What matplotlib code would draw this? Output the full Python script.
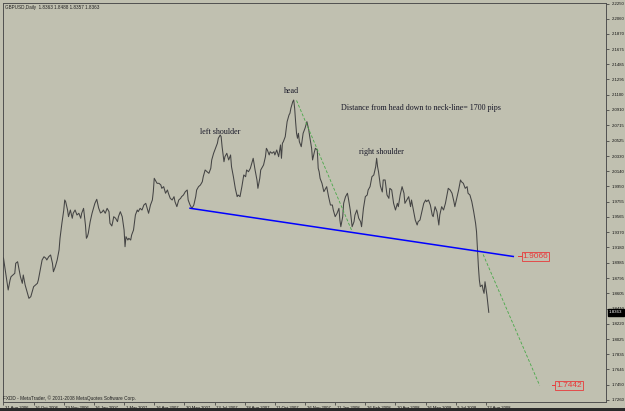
import matplotlib
matplotlib.use('Agg')
import matplotlib.pyplot as plt
from matplotlib.transforms import ScaledTranslation
from matplotlib.patches import Rectangle

# ---------------- data ----------------
bars = [0, 5, 6, 7, 8, 10, 12, 13, 15, 16, 18, 20, 21, 23, 25, 27, 29, 30, 32, 34,
        36, 37, 39, 41, 43, 45, 46, 48, 50, 52, 53, 55, 57, 59, 60, 62, 64, 65, 66, 68,
        69, 71, 73, 74, 76, 78, 80, 82, 83, 85, 87, 88, 89, 90, 92, 94, 96, 97, 99, 101,
        103,
        105, 106, 108, 110, 112, 113, 115, 116, 117, 119, 121, 122, 124, 126, 128, 129, 130, 132, 133, 135,
        136, 138, 140, 142, 143, 145, 147, 149, 151, 152, 154, 156, 158, 159, 160, 162, 163, 165, 167, 168,
        170, 172, 174, 175, 177, 179, 181, 182, 184, 186, 188, 189, 191, 193, 195, 196, 198, 200,
        202, 204, 205, 207, 209, 211, 212, 214, 216, 218, 220, 221, 223, 225, 227, 228, 230, 231, 232, 234,
        235, 237, 239, 241, 242, 244, 246, 248, 249, 251, 253, 255, 257, 258, 260, 262, 264, 265, 267, 269,
        270, 272, 273, 274, 276, 278, 279, 280, 282, 283, 285, 287, 288, 290, 292, 294, 295, 296, 297, 299,
        301, 303, 304, 305, 307, 308, 309, 310, 311, 312, 313, 314, 316, 317, 318, 320, 322, 324, 325, 327,
        328, 330, 331, 333, 334, 335, 336, 338, 340, 341, 343, 345, 347, 349, 350, 352, 354, 356, 357, 358,
        360, 361, 363, 365, 366, 368, 370, 372, 373, 375, 377, 379, 380, 382, 384, 386, 387, 389, 391, 393,
        395, 396, 397, 398, 400, 402, 403, 405,
        407, 409, 410, 412, 414, 416, 418, 419, 421, 423, 425, 426, 428, 430, 432, 433, 435, 437, 439, 440,
        442, 444, 446, 448, 449, 451, 453, 455, 456, 458, 460, 462, 463, 465, 467, 469, 471, 472, 474, 476,
        478, 479, 481, 483, 485, 486, 488, 490, 492, 493, 495, 497, 499, 501, 502, 503, 504, 505, 506, 508,
        509, 510, 511, 513, 514, 515]

close = [1.9047, 1.8644, 1.8707, 1.8770, 1.8811, 1.8833, 1.8854, 1.8980, 1.9000, 1.8937,
         1.8811, 1.8728, 1.8833, 1.8707, 1.8622, 1.8539, 1.8560, 1.8602, 1.8686, 1.8707,
         1.8728, 1.8770, 1.8896, 1.9022, 1.9063, 1.9043, 1.9022, 1.9063, 1.9085, 1.8980,
         1.8874, 1.8937, 1.9022, 1.9148, 1.9295, 1.9484, 1.9651, 1.9777, 1.9756, 1.9651,
         1.9567, 1.9651, 1.9547, 1.9610, 1.9651, 1.9588, 1.9610, 1.9547, 1.9610, 1.9672,
         1.9462, 1.9295, 1.9315, 1.9358, 1.9504, 1.9610, 1.9693, 1.9735, 1.9786, 1.9676,
         1.9613,
         1.9630, 1.9651, 1.9610, 1.9672, 1.9630, 1.9484, 1.9450, 1.9504, 1.9567, 1.9547,
         1.9504, 1.9567, 1.9630, 1.9567, 1.9399, 1.9189, 1.9315, 1.9273, 1.9295, 1.9273,
         1.9336, 1.9399, 1.9588, 1.9651, 1.9630, 1.9672, 1.9651, 1.9714, 1.9735, 1.9693,
         1.9610, 1.9714, 1.9777, 1.9882, 2.0050, 2.0007, 1.9987, 1.9987, 1.9966, 1.9924,
         1.9945, 1.9862, 1.9903, 1.9862, 1.9798, 1.9777, 1.9819, 1.9756, 1.9693, 1.9777,
         1.9798, 1.9819, 1.9840, 1.9882, 1.9903, 1.9777, 1.9714, 1.9672,
         1.9714, 1.9819, 1.9903, 1.9945, 1.9966, 2.0007, 2.0070, 2.0155, 2.0133, 2.0113,
         2.0176, 2.0281, 2.0365, 2.0428, 2.0491, 2.0554, 2.0595, 2.0574, 2.0448, 2.0259,
         2.0322, 2.0365, 2.0281, 2.0344, 2.0196, 2.0070, 1.9924, 1.9819, 1.9840, 1.9819,
         1.9945, 2.0092, 2.0070, 2.0155, 2.0133, 2.0176, 2.0259, 2.0302, 2.0155, 2.0029,
         1.9924, 2.0050, 2.0155, 2.0176, 2.0218, 2.0322, 2.0428, 2.0407, 2.0344, 2.0385,
         2.0365, 2.0385, 2.0344, 2.0407, 2.0322, 2.0470, 2.0302, 2.0491, 2.0511, 2.0574,
         2.0763, 2.0847, 2.0869, 2.0932, 2.1015, 2.1036, 2.0932, 2.0763, 2.0617, 2.0554,
         2.0617, 2.0511, 2.0448, 2.0532, 2.0617, 2.0680, 2.0763, 2.0658, 2.0574, 2.0428,
         2.0281, 2.0385, 2.0428, 2.0407, 2.0176, 2.0133, 2.0050, 1.9987, 1.9882, 1.9903,
         1.9945, 1.9819, 1.9714, 1.9714, 1.9651, 1.9567, 1.9610, 1.9672, 1.9525, 1.9441,
         1.9567, 1.9735, 1.9819, 1.9862, 1.9798, 1.9651, 1.9441, 1.9504, 1.9588, 1.9651,
         1.9547, 1.9504, 1.9441, 1.9672, 1.9819, 1.9840, 1.9903, 1.9945, 2.0070, 2.0092,
         2.0196, 2.0302, 2.0196, 2.0133, 1.9953, 1.9878, 2.0029, 2.0029,
         1.9840, 1.9798, 1.9924, 1.9903, 1.9735, 1.9651, 1.9735, 1.9693, 1.9840, 1.9945,
         1.9862, 1.9735, 1.9777, 1.9819, 1.9693, 1.9777, 1.9651, 1.9525, 1.9462, 1.9504,
         1.9525, 1.9630, 1.9735, 1.9777, 1.9756, 1.9777, 1.9714, 1.9588, 1.9567, 1.9693,
         1.9630, 1.9462, 1.9588, 1.9693, 1.9651, 1.9735, 1.9862, 1.9924, 1.9903, 1.9862,
         1.9756, 1.9693, 1.9798, 1.9903, 2.0029, 2.0007, 1.9987, 1.9924, 1.9945, 1.9862,
         1.9840, 1.9756, 1.9630, 1.9484, 1.9378, 1.9148, 1.8937, 1.8770, 1.8686, 1.8707,
         1.8644, 1.8602, 1.8748, 1.8581, 1.8476, 1.8363]

date_tick_bars = [0, 32, 64, 96, 128, 160, 192, 224, 256, 288, 320, 352, 384, 416, 448, 480, 512]
date_labels = ["31 Aug 2006", "16 Oct 2006", "29 Nov 2006", "16 Jan 2007", "1 Mar 2007",
               "16 Apr 2007", "30 May 2007", "13 Jul 2007", "28 Aug 2007", "11 Oct 2007",
               "26 Nov 2007", "11 Jan 2008", "26 Feb 2008", "10 Apr 2008", "26 May 2008",
               "9 Jul 2008", "22 Aug 2008"]

price_ticks = [2.2250, 2.2060, 2.1870, 2.1675, 2.1485, 2.1295, 2.1100, 2.0910, 2.0715,
               2.0525, 2.0330, 2.0140, 1.9950, 1.9755, 1.9565, 1.9370, 1.9180, 1.8985,
               1.8795, 1.8605, 1.8410, 1.8220, 1.8025, 1.7835, 1.7645, 1.7450, 1.7260]

neck_bars = [198, 541]
neck_prices = [1.9673, 1.9066]
head_proj_bars = [311, 370]
head_proj_prices = [2.1030, 1.9380]
target_bars = [509, 569]
target_prices = [1.9092, 1.7442]
level_label_bars = [546, 582]
level_label_prices = [1.9066, 1.7442]
last_close = 1.8363

pattern_labels = ["head", "left shoulder", "right shoulder"]
pattern_label_bars = [305.5, 229.6, 401.4]
pattern_label_prices = [2.1149, 2.0637, 2.0385]
note_text = "Distance from head down to neck-line= 1700 pips"
note_bar = 358.4
note_price = 2.0932

title_text = "GBPUSD,Daily  1.8363 1.8488 1.8357 1.8363"
footer_text = "FXDD - MetaTrader, \u00a9 2001-2008 MetaQuotes Software Corp."

# ---------------- style ----------------
BG = '#C0C0B0'
W, H = 625, 411
fig = plt.figure(figsize=(W / 100, H / 100), dpi=100, facecolor=BG)
ax = fig.add_axes([3 / W, 1 - 402 / H, 603 / W, 399 / H], facecolor=BG)

ax.set_xlim(-0.5, 639.4)
ax.set_ylim(1.7234, 2.2257)

ax.plot(bars, close, color='#444444', lw=0.75, zorder=3)
ax.plot(neck_bars, neck_prices, color='#0000FF', lw=1.1, zorder=4)
for bx, py in ((head_proj_bars, head_proj_prices), (target_bars, target_prices)):
    ax.plot(bx, py, color='#48A848', lw=0.6, dashes=(3.5, 2.2), zorder=4)

# red level labels
for b, p in zip(level_label_bars, level_label_prices):
    ax.plot([b, b + 4], [p, p], color='#E83A3A', lw=0.7, zorder=5)
    ax.text(b + 4.8, p, f"{p:.4f}", color='#E83A3A', fontsize=6.0, family='Liberation Sans',
            va='center', ha='left', zorder=6,
            bbox=dict(boxstyle='square,pad=0.12', facecolor=BG, edgecolor='#E83A3A', lw=0.6))

# pattern labels
for t, b, p in zip(pattern_labels, pattern_label_bars, pattern_label_prices):
    ax.text(b, p, t, fontsize=5.8, family='Liberation Serif', color='#181828',
            ha='center', va='center', zorder=6)
ax.text(note_bar, note_price, note_text, fontsize=5.8, family='Liberation Serif',
        color='#181828', ha='left', va='center', zorder=6)

# title and footer
ax.text(0.003, 0.995, title_text, transform=ax.transAxes, fontsize=3.3,
        family='Liberation Sans', color='#202020', ha='left', va='top')
ax.text(0.0, 0.003, footer_text, transform=ax.transAxes, fontsize=3.4,
        family='Liberation Sans', color='#202020', ha='left', va='bottom')

# spines
for s in ax.spines.values():
    s.set_color('#505050')
    s.set_linewidth(0.7)

# x axis (dates)
ax.set_xticks(date_tick_bars)
ax.set_xticklabels(date_labels)
ax.tick_params(axis='x', direction='out', length=2.5, width=0.5, color='#303030',
               labelsize=3.1, pad=0.2, labelcolor='#101010')
off = ScaledTranslation(1.5 / 100, 0, fig.dpi_scale_trans)
for lab in ax.get_xticklabels():
    lab.set_horizontalalignment('left')
    lab.set_family('Liberation Sans')
    lab.set_transform(lab.get_transform() + off)

# y axis (prices) on the right
ax.yaxis.tick_right()
ax.set_yticks(price_ticks)
ax.set_yticklabels([f"{v:.4f}" for v in price_ticks])
ax.tick_params(axis='y', direction='out', length=2.5, width=0.5, color='#303030',
               labelsize=3.1, pad=1.5, labelcolor='#101010')
for lab in ax.get_yticklabels():
    lab.set_family('Liberation Sans')

# current price box on the axis
ax.annotate(f"{last_close:.4f}", xy=(1.0, last_close), xycoords=('axes fraction', 'data'),
            xytext=(2.2, 0), textcoords='offset points', fontsize=3.2,
            family='Liberation Sans', color='white', ha='left', va='center', zorder=10,
            annotation_clip=False,
            bbox=dict(boxstyle='square,pad=0.35', facecolor='black', edgecolor='black'))

# dark outer bottom strip
fig.patches.append(Rectangle((0, 0), 1, 3 / H, transform=fig.transFigure,
                             facecolor='#2a2a2a', edgecolor='none'))

fig.savefig('out.png', dpi=100, facecolor=BG)
